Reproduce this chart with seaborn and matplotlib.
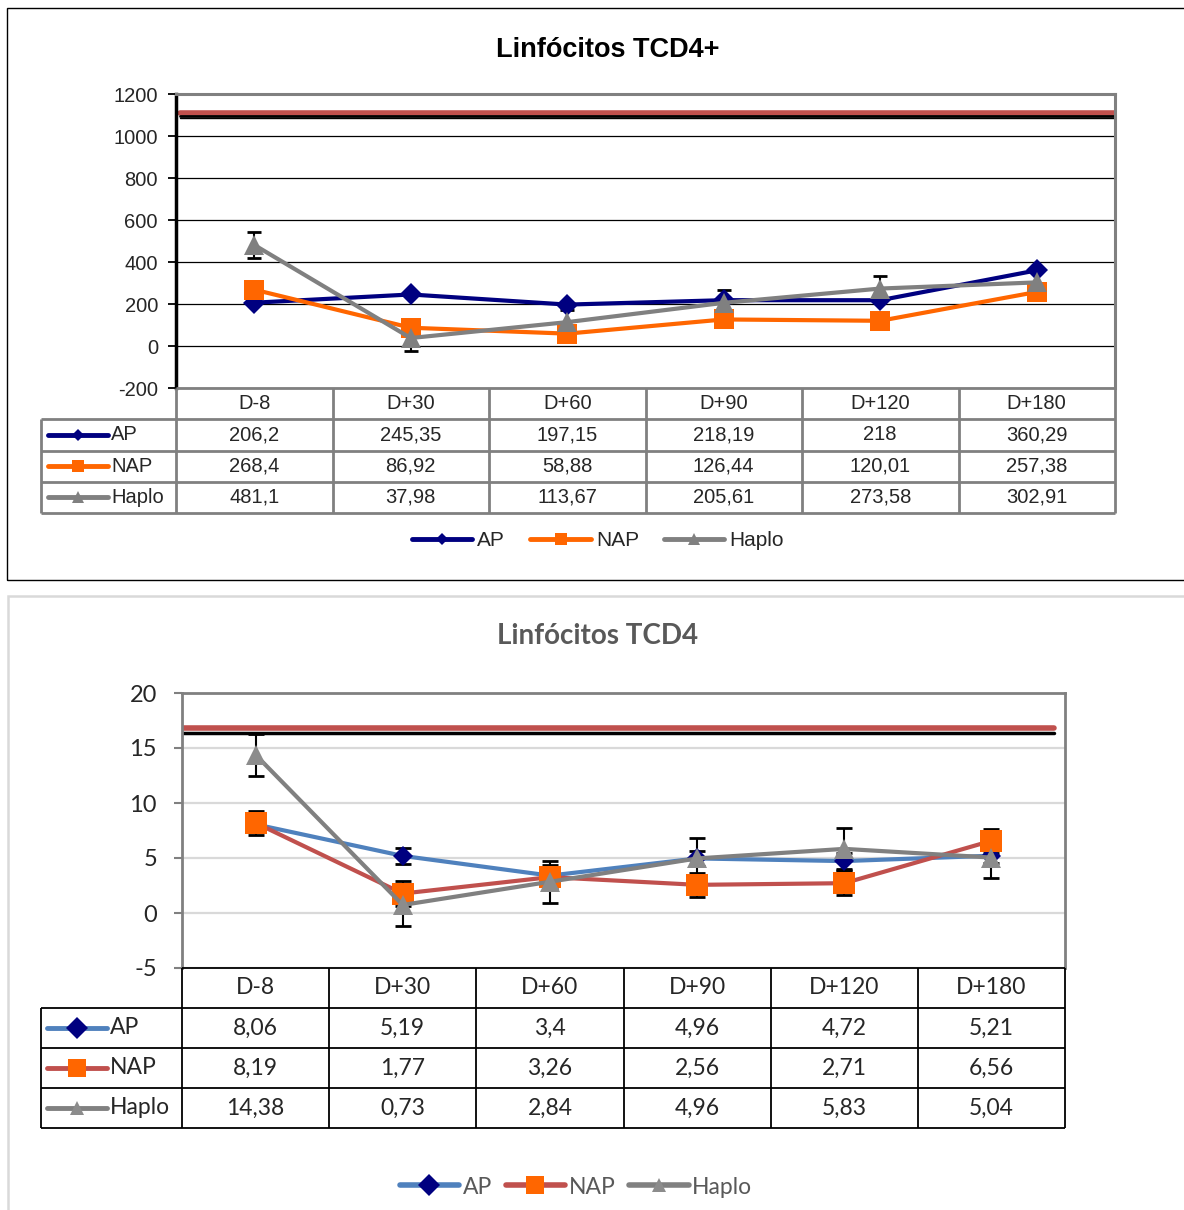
import numpy as np
import pandas as pd
import seaborn as sns
import matplotlib.pyplot as plt
from matplotlib.lines import Line2D
from matplotlib.patches import Rectangle

# Data
dias = ["D-8", "D+30", "D+60", "D+90", "D+120", "D+180"]
grupos = ["AP", "NAP", "Haplo"]

# top chart: absolute counts
ap_abs = [206.2, 245.35, 197.15, 218.19, 218, 360.29]
nap_abs = [268.4, 86.92, 58.88, 126.44, 120.01, 257.38]
haplo_abs = [481.1, 37.98, 113.67, 205.61, 273.58, 302.91]
haplo_abs_err = [62, 62, 60, 60, 60, 60]
ref_abs = [1110, 1095, 1085]

# bottom chart: percentages
ap_pct = [8.06, 5.19, 3.4, 4.96, 4.72, 5.21]
nap_pct = [8.19, 1.77, 3.26, 2.56, 2.71, 6.56]
haplo_pct = [14.38, 0.73, 2.84, 4.96, 5.83, 5.04]
ap_pct_err = [0.7, 0.7, 0.7, 0.7, 0.7, 0.7]
nap_pct_err = [1.1, 1.1, 1.1, 1.1, 1.1, 1.1]
haplo_pct_err = [1.9, 1.9, 1.9, 1.9, 1.9, 1.9]
ref_pct = [16.85, 16.4]

W, H = 1184, 1210


def px_rect(x0, y0, x1, y1):
    return [x0 / W, 1 - y1 / H, (x1 - x0) / W, (y1 - y0) / H]


def fmt(v):
    return f"{v:g}".replace(".", ",")


sns.set_theme(style="white")
plt.rcParams['font.family'] = ['Liberation Sans', 'DejaVu Sans']
plt.rcParams['axes.unicode_minus'] = False

fig = plt.figure(figsize=(W / 100, H / 100), dpi=100)

marcadores = {"AP": "D", "NAP": "s", "Haplo": "^"}
pos = np.arange(len(dias))


def draw_table(fig, rect, series, col_px, lab_px, line_color, lw, fam, fs,
               line_cols, mark_cols, icon_ms, seg=(7, 67), txt_off=70):
    tax = fig.add_axes(rect)
    lab_w = lab_px / col_px
    tax.set_xlim(-lab_w, len(dias))
    tax.set_ylim(4, 0)
    tax.axis("off")
    kw = dict(color=line_color, lw=lw, clip_on=False)
    tax.hlines(0, 0, len(dias), **kw)
    for r in range(1, 5):
        tax.hlines(r, -lab_w, len(dias), **kw)
    for c in range(len(dias) + 1):
        tax.vlines(c, 0, 4, **kw)
    tax.vlines(-lab_w, 1, 4, **kw)
    for c, d in enumerate(dias):
        tax.text(c + 0.5, 0.5, d, ha="center", va="center", fontsize=fs, family=fam)
    for r, (g, vals) in enumerate(zip(grupos, series)):
        for c, v in enumerate(vals):
            tax.text(c + 0.5, r + 1.5, fmt(v), ha="center", va="center",
                     fontsize=fs, family=fam)
        x0 = -lab_w + seg[0] / col_px
        x1 = -lab_w + seg[1] / col_px
        tax.plot([x0, x1], [r + 1.5] * 2, color=line_cols[g], lw=3.5,
                 solid_capstyle="round", clip_on=False)
        tax.plot([(x0 + x1) / 2], [r + 1.5], marker=marcadores[g], ms=icon_ms[g],
                 color=mark_cols[g], mew=0, clip_on=False)
        tax.text(-lab_w + txt_off / col_px, r + 1.5, g, ha="left", va="center",
                 fontsize=fs, family=fam)
    return tax


# ---------------- top panel ----------------
fig.patches.append(Rectangle((7 / W, 1 - 580 / H), 1.2, (580 - 8) / H,
                             transform=fig.transFigure, fill=False,
                             ec="black", lw=1))
fig.text(608 / W, 1 - 50 / H, "Linfócitos TCD4+", ha="center", va="center",
         fontsize=19.5, fontweight="bold", color="black")

cores_a = {"AP": "#000080", "NAP": "#FF6600", "Haplo": "#808080"}
df_a = pd.DataFrame({"pos": np.tile(pos, 3),
                     "grupo": np.repeat(grupos, len(dias)),
                     "valor": ap_abs + nap_abs + haplo_abs})

ax1 = fig.add_axes(px_rect(176, 94, 1115, 388))
sns.lineplot(data=df_a, x="pos", y="valor", hue="grupo", style="grupo",
             hue_order=grupos, style_order=grupos, palette=cores_a,
             markers=marcadores, dashes=False, lw=3, markeredgewidth=0,
             legend=False, ax=ax1)
for ln, ms in zip(ax1.lines, [11, 14, 14]):
    ln.set_markersize(ms)
ax1.errorbar(pos, haplo_abs, yerr=haplo_abs_err, fmt="none", ecolor="black",
             elinewidth=1.5, capsize=5, capthick=2, zorder=1.8)
ax1.axhline(ref_abs[0], xmin=0.004, color="#C0504D", lw=4)
ax1.axhline(ref_abs[1], xmin=0.004, color="black", lw=2)
ax1.axhline(ref_abs[2], xmin=0.004, color="black", lw=1)
ax1.set_xlim(-0.5, 5.5)
ax1.set_ylim(-200, 1200)
ax1.set_yticks(range(-200, 1201, 200))
ax1.set_xticks([])
ax1.set_xlabel("")
ax1.set_ylabel("")
ax1.yaxis.grid(True, color="black", lw=0.9)
ax1.tick_params(axis="y", left=True, direction="out", length=6, width=1.3,
                color="black", labelsize=14.5, pad=7)
ax1.spines["left"].set_color("black")
ax1.spines["left"].set_linewidth(2.5)
for s in ["top", "right"]:
    ax1.spines[s].set_color("#808080")
    ax1.spines[s].set_linewidth(2.2)
ax1.spines["bottom"].set_visible(False)

draw_table(fig, px_rect(41, 388, 1115, 513), [ap_abs, nap_abs, haplo_abs],
           col_px=(1115 - 176) / 6, lab_px=176 - 41, line_color="#808080",
           lw=2, fam=["Liberation Sans", "DejaVu Sans"], fs=14.5,
           line_cols=cores_a, mark_cols=cores_a,
           icon_ms={"AP": 6, "NAP": 8, "Haplo": 8})

hand_a = [Line2D([], [], color=cores_a[g], lw=3.5, marker=marcadores[g],
                 ms={"AP": 6, "NAP": 8, "Haplo": 8}[g], mew=0) for g in grupos]
fig.legend(handles=hand_a, labels=grupos, loc="center",
           bbox_to_anchor=(598 / W, 1 - 541 / H), ncol=3, frameon=False,
           handlelength=2.9, handletextpad=0.25, columnspacing=1.2,
           prop={"family": "Liberation Sans", "size": 15})

# ---------------- bottom panel ----------------
fig.patches.append(Rectangle((8 / W, 1 - 1225 / H), 1.2, (1225 - 596) / H,
                             transform=fig.transFigure, fill=False,
                             ec="#D9D9D9", lw=1.8))
fam_b = ["Lato", "DejaVu Sans"]
fig.text(598 / W, 1 - 636 / H, "Linfócitos TCD4", ha="center", va="center",
         fontsize=20, fontweight="bold", color="#595959", family=fam_b)

linhas_b = {"AP": "#4F81BD", "NAP": "#C0504D", "Haplo": "#808080"}
marc_b = {"AP": "#000080", "NAP": "#FF6600", "Haplo": "#8C8C8C"}
df_b = pd.DataFrame({"pos": np.tile(pos, 3),
                     "grupo": np.repeat(grupos, len(dias)),
                     "valor": ap_pct + nap_pct + haplo_pct})

ax2 = fig.add_axes(px_rect(182, 693, 1065, 968))
sns.lineplot(data=df_b, x="pos", y="valor", hue="grupo", style="grupo",
             hue_order=grupos, style_order=grupos, palette=linhas_b,
             markers=marcadores, dashes=False, lw=3, markeredgewidth=0,
             legend=False, ax=ax2)
for ln, g, ms in zip(ax2.lines, grupos, [10, 16, 15]):
    ln.set_markersize(ms)
    ln.set_markerfacecolor(marc_b[g])
    ln.set_markeredgecolor(marc_b[g])
for vals, err in [(ap_pct, ap_pct_err), (nap_pct, nap_pct_err),
                  (haplo_pct, haplo_pct_err)]:
    ax2.errorbar(pos, vals, yerr=err, fmt="none", ecolor="black",
                 elinewidth=1.5, capsize=6, capthick=2, zorder=1.8)
ax2.axhline(ref_pct[0], xmax=0.987, color="#C0504D", lw=4)
ax2.axhline(ref_pct[1], xmax=0.987, color="black", lw=2.5)
ax2.set_xlim(-0.5, 5.5)
ax2.set_ylim(-5, 20)
ax2.set_yticks(range(-5, 21, 5))
ax2.set_xticks([])
ax2.set_xlabel("")
ax2.set_ylabel("")
ax2.yaxis.grid(True, color="#D9D9D9", lw=1.6)
ax2.tick_params(axis="y", left=True, direction="out", length=6, width=1.5,
                color="#808080", labelsize=17, pad=12)
for lab in ax2.get_yticklabels():
    lab.set_family(fam_b)
for s in ["left", "top", "right"]:
    ax2.spines[s].set_color("#808080")
    ax2.spines[s].set_linewidth(2)
ax2.spines["bottom"].set_visible(False)

draw_table(fig, px_rect(41, 968, 1065, 1128), [ap_pct, nap_pct, haplo_pct],
           col_px=(1065 - 182) / 6, lab_px=182 - 41, line_color="black",
           lw=1.3, fam=fam_b, fs=16.5, line_cols=linhas_b, mark_cols=marc_b,
           icon_ms={"AP": 11, "NAP": 13, "Haplo": 10}, seg=(6, 66), txt_off=69)

hand_b = [Line2D([], [], color=linhas_b[g], lw=4, marker=marcadores[g],
                 ms={"AP": 11, "NAP": 13, "Haplo": 10}[g], mew=0,
                 markerfacecolor=marc_b[g]) for g in grupos]
leg = fig.legend(handles=hand_b, labels=grupos, loc="center",
                 bbox_to_anchor=(576 / W, 1 - 1187 / H), ncol=3, frameon=False,
                 handlelength=2.6, handletextpad=0.15, columnspacing=0.6,
                 prop={"family": fam_b, "size": 16.5})
for t in leg.get_texts():
    t.set_color("#595959")

fig.savefig("out.png", dpi=100)
